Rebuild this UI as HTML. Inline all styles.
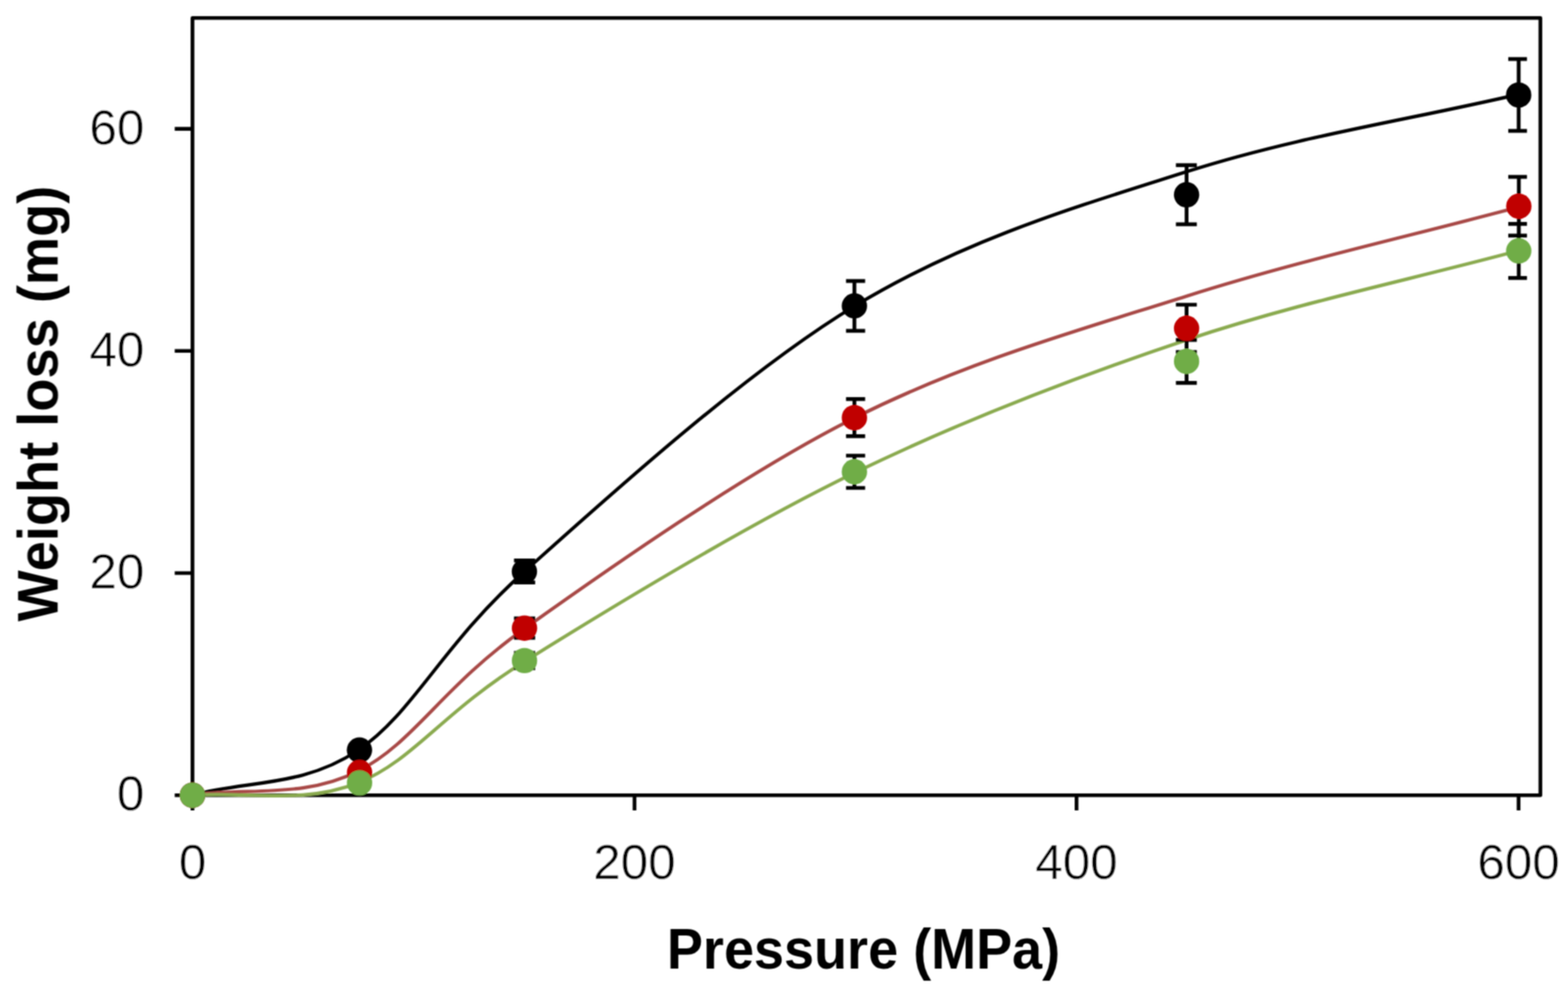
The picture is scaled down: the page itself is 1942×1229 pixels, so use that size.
<!DOCTYPE html>
<html><head><meta charset="utf-8"><title>Weight loss vs Pressure</title>
<style>html,body{margin:0;padding:0;background:#fff;overflow:hidden;}svg{display:block;}</style>
</head><body>
<svg width="1942" height="1229" viewBox="0 0 1942 1229">
<defs><filter id="b" x="-5%" y="-5%" width="110%" height="110%"><feConvolveMatrix order="3" kernelMatrix="1 2 1 2 4 2 1 2 1" divisor="16" edgeMode="duplicate"/></filter></defs>
<rect width="1942" height="1229" fill="#fff"/>
<g filter="url(#b)">
<rect x="238.4" y="22.3" width="1669.4" height="962.9" fill="none" stroke="#000" stroke-width="4.6" stroke-linejoin="round"/>
<path d="M216.4,985.2H238.4 M216.4,710H238.4 M216.4,434.8H238.4 M216.4,159.6H238.4 M238.4,985.2V1004 M785.86,985.2V1004 M1333.32,985.2V1004 M1880.78,985.2V1004" stroke="#000" stroke-width="4.6" fill="none"/>
<g font-family="'Liberation Sans', sans-serif" font-size="61.2" fill="#000" stroke="#fff" stroke-width="0.4">
<text x="178.9" y="1004.3" text-anchor="end">0</text>
<text x="178.9" y="729.1" text-anchor="end">20</text>
<text x="178.9" y="453.9" text-anchor="end">40</text>
<text x="178.9" y="178.7" text-anchor="end">60</text>
<text x="238.4" y="1089.1" text-anchor="middle">0</text>
<text x="785.86" y="1089.1" text-anchor="middle">200</text>
<text x="1333.32" y="1089.1" text-anchor="middle">400</text>
<text x="1880.78" y="1089.1" text-anchor="middle">600</text>
</g>
<g font-family="'Liberation Sans', sans-serif" font-weight="bold" font-size="70.6" fill="#000">
<text x="826" y="1199.6" textLength="487" lengthAdjust="spacingAndGlyphs">Pressure (MPa)</text>
<text transform="translate(71.4,770) rotate(-90)" x="0" y="0" textLength="540" lengthAdjust="spacingAndGlyphs">Weight loss (mg)</text>
</g>
<path d="M238.4,985.2 C306.83,966.59 375.26,975.47 443.7,929.38 C512.13,883.28 546.35,800.46 649,708.65 C751.64,616.84 922.72,461.19 1059.59,378.51 C1196.45,295.82 1333.32,256.16 1470.18,212.55 C1607.05,168.94 1743.91,148.75 1880.78,116.85" fill="none" stroke="#000000" stroke-width="4.2"/>
<path d="M238.4,985.2 C306.83,975.23 375.26,989.61 443.7,955.29 C512.13,920.96 546.35,852.29 649,779.25 C751.64,706.22 922.72,585.84 1059.59,517.07 C1196.45,448.31 1333.32,410.07 1470.18,366.66 C1607.05,323.25 1743.91,293.28 1880.78,256.59" fill="none" stroke="#A84A46" stroke-width="4.2"/>
<path d="M238.4,985.2 C306.83,980.06 375.26,997.33 443.7,969.79 C512.13,942.25 546.35,884.04 649,819.94 C751.64,755.85 922.72,651.73 1059.59,585.22 C1196.45,518.72 1333.32,466.7 1470.18,420.93 C1607.05,375.16 1743.91,347.37 1880.78,310.59" fill="none" stroke="#8AAA4F" stroke-width="4.2"/>
<path d="M649.5,694.4V721.7M636.6,694.4H662.8M636.6,721.7H662.8M1058.2,348.1V409.9M1047.8,348.1H1071.5M1047.8,409.9H1071.5M1469.6,204.7V277.9M1456.4,204.7H1482.3M1456.4,277.9H1482.3M1880.9,73.2V162.2M1868,73.2H1891.2M1868,162.2H1891.2M649.6,766.2V790.2M636.6,766.2H662.8M636.6,790.2H662.8M1058.2,494.4V540.4M1047.8,494.4H1071.5M1047.8,540.4H1071.5M1469.6,377.5V436.1M1456.4,377.5H1482.3M1456.4,436.1H1482.3M1881.1,219.1V291.9M1868,219.1H1891.2M1868,291.9H1891.2M649.6,808.9V827.9M636.6,808.9H662.8M636.6,827.9H662.8M1058.2,564.5V604.5M1047.8,564.5H1071.5M1047.8,604.5H1071.5M1469.6,421.1V474.3M1456.4,421.1H1482.3M1456.4,474.3H1482.3M1881,277.3V344.3M1868,277.3H1891.2M1868,344.3H1891.2" stroke="#000" stroke-width="4.7" fill="none"/>
<circle cx="238.4" cy="985.2" r="15.7" fill="#000000"/>
<circle cx="445.2" cy="929.3" r="15.7" fill="#000000"/>
<circle cx="649.5" cy="708.05" r="15.7" fill="#000000"/>
<circle cx="1058.2" cy="379" r="15.7" fill="#000000"/>
<circle cx="1469.6" cy="241.3" r="15.7" fill="#000000"/>
<circle cx="1880.9" cy="117.7" r="15.7" fill="#000000"/>
<circle cx="238.4" cy="985.2" r="15.7" fill="#C00000"/>
<circle cx="445.3" cy="957" r="15.7" fill="#C00000"/>
<circle cx="649.6" cy="778.2" r="15.7" fill="#C00000"/>
<circle cx="1058.2" cy="517.4" r="15.7" fill="#C00000"/>
<circle cx="1469.6" cy="406.8" r="15.7" fill="#C00000"/>
<circle cx="1881.1" cy="255.5" r="15.7" fill="#C00000"/>
<circle cx="238.4" cy="985.2" r="15.7" fill="#70AD47"/>
<circle cx="445.3" cy="969.9" r="15.7" fill="#70AD47"/>
<circle cx="649.6" cy="818.4" r="15.7" fill="#70AD47"/>
<circle cx="1058.2" cy="584.5" r="15.7" fill="#70AD47"/>
<circle cx="1469.6" cy="447.7" r="15.7" fill="#70AD47"/>
<circle cx="1881" cy="310.8" r="15.7" fill="#70AD47"/>
</g></svg>
</body></html>
